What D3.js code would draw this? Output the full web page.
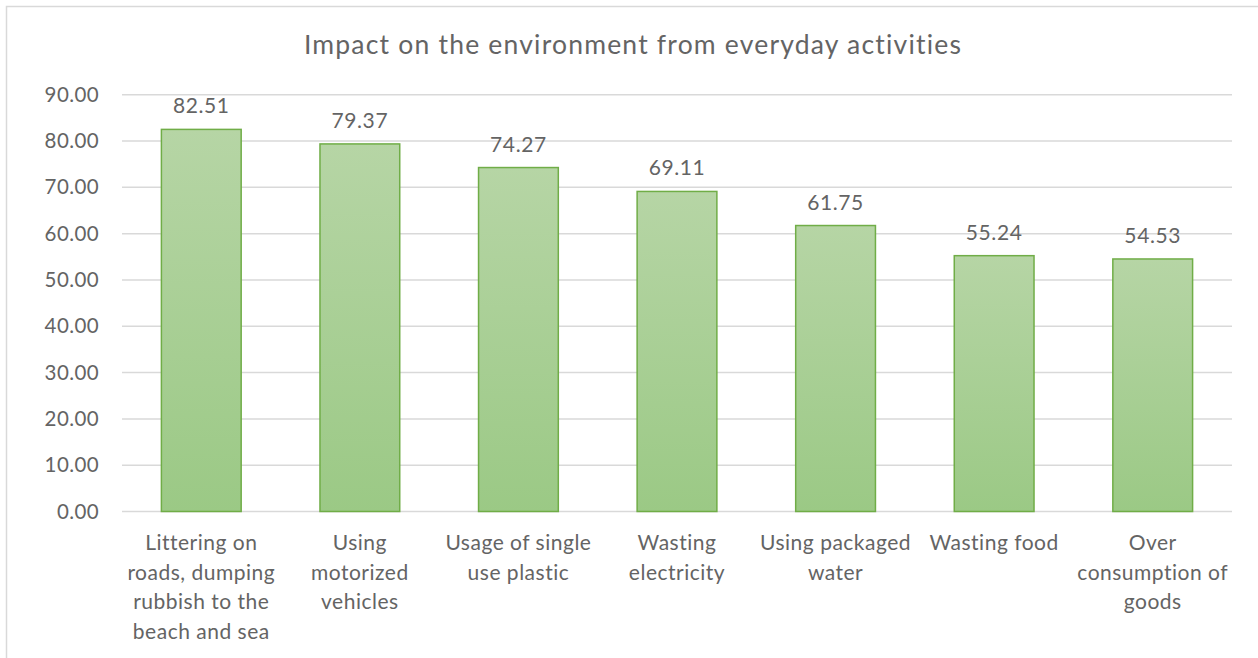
<!DOCTYPE html>
<html>
<head>
<meta charset="utf-8">
<script src="https://cdn.jsdelivr.net/npm/d3@7"></script>
<style>
  body { margin: 0; background: #fff; }
  text { font-family: Lato, "Open Sans", sans-serif; fill: #646464; }
</style>
</head>
<body>
<div id="chart"></div>
<script>
var categories = ['Littering on\nroads, dumping\nrubbish to the\nbeach and sea', 'Using\nmotorized\nvehicles',
                  'Usage of single\nuse plastic', 'Wasting\nelectricity', 'Using packaged\nwater', 'Wasting food',
                  'Over\nconsumption of\ngoods']
var values = [82.51, 79.37, 74.27, 69.11, 61.75, 55.24, 54.53]
var yTicks = [0, 10, 20, 30, 40, 50, 60, 70, 80, 90]
var title = 'Impact on the environment from everyday activities'

var W = 1258, H = 658
var plot = {left: 122, right: 1232, top: 94.7, bottom: 511.5}

var svg = d3.select('#chart')
    .append('svg')
    .attr('width', W)
    .attr('height', H)

var defs = svg.append('defs')
var grad = defs.append('linearGradient')
    .attr('id', 'barfill')
    .attr('x1', '0').attr('y1', '0')
    .attr('x2', '0').attr('y2', '1')
grad.append('stop').attr('offset', '0%').attr('stop-color', '#b6d5a5')
grad.append('stop').attr('offset', '100%').attr('stop-color', '#9bc985')

// chart frame
svg.append('rect')
    .attr('x', 6.5).attr('y', 6.5)
    .attr('width', W + 10).attr('height', H + 10)
    .attr('fill', 'none')
    .attr('stroke', '#d9d9d9')
    .attr('stroke-width', 1.5)

var x = d3.scaleBand()
    .domain(categories)
    .range([plot.left, plot.right])
    .paddingInner(0.497)
    .paddingOuter(0.2485)

var y = d3.scaleLinear()
    .domain([0, 90])
    .range([plot.bottom, plot.top])

// gridlines
svg.append('g')
    .selectAll('line')
    .data(yTicks)
    .enter()
    .append('line')
    .attr('x1', plot.left)
    .attr('x2', plot.right)
    .attr('y1', function(d){ return y(d) })
    .attr('y2', function(d){ return y(d) })
    .attr('stroke', '#d9d9d9')
    .attr('stroke-width', 1.5)

// y axis labels
var yAxis = d3.axisLeft(y)
    .tickValues(yTicks)
    .tickFormat(d3.format('.2f'))
    .tickSize(0)
    .tickPadding(23)
var gy = svg.append('g')
    .attr('transform', 'translate(' + plot.left + ',0)')
    .call(yAxis)
gy.select('.domain').remove()
gy.selectAll('text')
    .attr('font-size', '20.5px')
    .attr('font-family', null)
    .attr('fill', '#646464')
    .attr('letter-spacing', '0.4px')

// bars
svg.append('g')
    .selectAll('rect')
    .data(values)
    .enter()
    .append('rect')
    .attr('x', function(d, i){ return x(categories[i]) })
    .attr('y', function(d){ return y(d) })
    .attr('width', x.bandwidth())
    .attr('height', function(d){ return y(0) - y(d) })
    .attr('fill', 'url(#barfill)')
    .attr('stroke', '#70ad47')
    .attr('stroke-width', 1.5)

// value labels
svg.append('g')
    .selectAll('text')
    .data(values)
    .enter()
    .append('text')
    .attr('x', function(d, i){ return x(categories[i]) + x.bandwidth() / 2 })
    .attr('y', function(d){ return y(d) - 16 })
    .attr('text-anchor', 'middle')
    .attr('font-size', '21px')
    .attr('letter-spacing', '0.6px')
    .text(function(d){ return d.toFixed(2) })

// category labels
var xl = svg.append('g')
    .selectAll('text')
    .data(categories)
    .enter()
    .append('text')
    .attr('text-anchor', 'middle')
    .attr('font-size', '21px')
    .attr('letter-spacing', '0.5px')
    .attr('x', function(d){ return x(d) + x.bandwidth() / 2 })
    .attr('y', 550)
xl.selectAll('tspan')
    .data(function(d){ return d.split('\n') })
    .enter()
    .append('tspan')
    .attr('x', function(){ var p = d3.select(this.parentNode).datum(); return x(p) + x.bandwidth() / 2 })
    .attr('dy', function(d, i){ return i == 0 ? 0 : 29.5 })
    .text(function(d){ return d })

// title
svg.append('text')
    .attr('x', 633)
    .attr('y', 54)
    .attr('text-anchor', 'middle')
    .attr('font-size', '26.5px')
    .attr('letter-spacing', '1.2px')
    .text(title)
</script>
</body>
</html>
